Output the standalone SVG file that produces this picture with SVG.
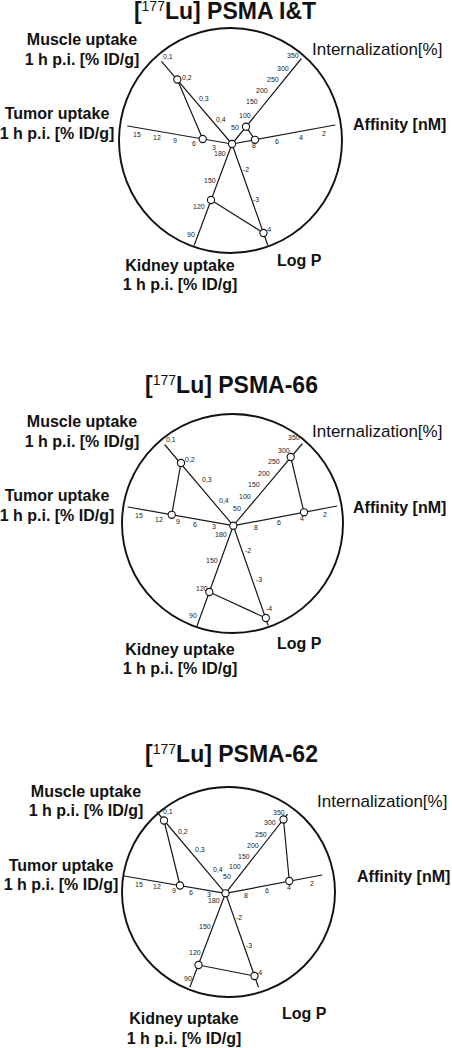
<svg xmlns="http://www.w3.org/2000/svg" width="452" height="1048" viewBox="0 0 452 1048">
<style>
.bg{fill:#fff}
.rim{fill:none;stroke:#111;stroke-width:1.9}
.ax{fill:none;stroke:#1a1a1a;stroke-width:1.2;stroke-linecap:round}
.pt{fill:#fff;stroke:#111;stroke-width:1.1}
.tk{font-family:"Liberation Sans",Arial,sans-serif;font-size:7px;fill:#222}
.lb{font-family:"Liberation Sans",Arial,sans-serif;font-size:16px;font-weight:bold;fill:#111}
.lc{text-anchor:middle}
.lr{font-family:"Liberation Sans",Arial,sans-serif;font-size:17px;fill:#111}
.tt{font-family:"Liberation Sans",Arial,sans-serif;font-size:23px;font-weight:bold;fill:#111;text-anchor:middle}
.sup{font-size:14px;font-weight:normal}
</style>
<rect class="bg" x="0" y="0" width="452" height="1048"/>

<!-- ============ Chart 1 ============ -->
<g id="chart-psma-it">
  <text id="title-1" class="tt" x="225" y="19">[<tspan class="sup" dy="-8">177</tspan><tspan dy="8">Lu] PSMA I&amp;T</tspan></text>
  <ellipse id="rim-1" class="rim" cx="230.5" cy="140.5" rx="111.5" ry="112.5"/>
  <g id="axes-1" class="ax">
    <line x1="161.7" y1="61.7" x2="232" y2="144"/>
    <line x1="301" y1="59" x2="232" y2="144"/>
    <line x1="232" y1="144" x2="335" y2="125"/>
    <line x1="232" y1="144" x2="267.7" y2="245"/>
    <line x1="232" y1="144" x2="194.3" y2="245"/>
    <line x1="127.7" y1="126" x2="232" y2="144"/>
  </g>
  <g id="connectors-1" class="ax">
    <line x1="177.3" y1="79.5" x2="202.7" y2="139"/>
    <line x1="246" y1="126.7" x2="255" y2="139.8"/>
    <line x1="263.5" y1="233" x2="211" y2="200"/>
  </g>
  <g id="points-1" class="pt">
    <circle cx="232" cy="144" r="3.6"/>
    <circle cx="177.3" cy="79.5" r="3.6"/>
    <circle cx="246" cy="126.7" r="3.6"/>
    <circle cx="255" cy="139.8" r="3.6"/>
    <circle cx="263.5" cy="233" r="3.6"/>
    <circle cx="211" cy="200" r="3.6"/>
    <circle cx="202.7" cy="139" r="3.6"/>
  </g>
  <g id="ticks-1" class="tk">
    <text x="163" y="59">0,1</text><text x="182" y="80">0,2</text><text x="199" y="101">0,3</text><text x="216" y="122">0,4</text>
    <text x="287" y="58">350</text><text x="277" y="71">300</text><text x="267" y="82">250</text><text x="256" y="93">200</text><text x="246" y="104">150</text><text x="239" y="118">100</text><text x="231" y="130">50</text>
    <text x="252" y="148">8</text><text x="275" y="144">6</text><text x="299" y="140">4</text><text x="322" y="136">2</text>
    <text x="133" y="137">15</text><text x="153" y="140">12</text><text x="173" y="143">9</text><text x="192" y="146">6</text><text x="212" y="150">3</text>
    <text x="214" y="156">180</text><text x="204" y="183">150</text><text x="193" y="209">120</text><text x="187" y="237">90</text>
    <text x="243" y="172">-2</text><text x="253" y="202">-3</text><text x="265" y="232">-4</text>
  </g>
  <g id="label-muscle-1" class="lb lc"><text x="82" y="45">Muscle uptake</text><text x="82" y="65">1 h p.i. [% ID/g]</text></g>
  <g id="label-intern-1" class="lr"><text x="312" y="55">Internalization[%]</text></g>
  <g id="label-tumor-1" class="lb lc"><text x="57" y="119">Tumor uptake</text><text x="57" y="139">1 h p.i. [% ID/g]</text></g>
  <g id="label-affinity-1" class="lb"><text x="353" y="130">Affinity [nM]</text></g>
  <g id="label-kidney-1" class="lb lc"><text x="180" y="271">Kidney uptake</text><text x="180" y="290">1 h p.i. [% ID/g]</text></g>
  <g id="label-logp-1" class="lb"><text x="277" y="266">Log P</text></g>
</g>

<!-- ============ Chart 2 ============ -->
<g id="chart-psma-66">
  <text id="title-2" class="tt" x="231.5" y="393">[<tspan class="sup" dy="-8">177</tspan><tspan dy="8">Lu] PSMA-66</tspan></text>
  <ellipse id="rim-2" class="rim" cx="232.5" cy="523.5" rx="110.5" ry="109.5"/>
  <g id="axes-2" class="ax">
    <line x1="165" y1="445" x2="233.3" y2="525.7"/>
    <line x1="302" y1="444" x2="233.3" y2="525.7"/>
    <line x1="233.3" y1="525.7" x2="337" y2="506"/>
    <line x1="233.3" y1="525.7" x2="268" y2="625"/>
    <line x1="233.3" y1="525.7" x2="197" y2="626"/>
    <line x1="128" y1="507" x2="233.3" y2="525.7"/>
  </g>
  <g id="connectors-2" class="ax">
    <line x1="181" y1="463" x2="171.7" y2="514.8"/>
    <line x1="290.7" y1="457" x2="304" y2="512.3"/>
    <line x1="265.8" y1="618" x2="209.3" y2="592"/>
  </g>
  <g id="points-2" class="pt">
    <circle cx="233.3" cy="525.7" r="3.6"/>
    <circle cx="181" cy="463" r="3.6"/>
    <circle cx="290.7" cy="457" r="3.6"/>
    <circle cx="304" cy="512.3" r="3.6"/>
    <circle cx="265.8" cy="618" r="3.6"/>
    <circle cx="209.3" cy="592" r="3.6"/>
    <circle cx="171.7" cy="514.8" r="3.6"/>
  </g>
  <g id="ticks-2" class="tk">
    <text x="166" y="442">0,1</text><text x="185" y="462">0,2</text><text x="202" y="482">0,3</text><text x="219" y="503">0,4</text>
    <text x="288" y="440">350</text><text x="278" y="453">300</text><text x="268" y="464">250</text><text x="258" y="476">200</text><text x="248" y="487">150</text><text x="239" y="499">100</text><text x="233" y="511">50</text>
    <text x="254" y="530">8</text><text x="277" y="525">6</text><text x="300" y="521">4</text><text x="323" y="517">2</text>
    <text x="135" y="518">15</text><text x="155" y="522">12</text><text x="176" y="524">9</text><text x="193" y="527">6</text><text x="212" y="529">3</text>
    <text x="215" y="537">180</text><text x="206" y="563">150</text><text x="196" y="591">120</text><text x="189" y="618">90</text>
    <text x="245" y="553">-2</text><text x="256" y="582">-3</text><text x="266" y="611">-4</text>
  </g>
  <g id="label-muscle-2" class="lb lc"><text x="82" y="427">Muscle uptake</text><text x="82" y="447">1 h p.i. [% ID/g]</text></g>
  <g id="label-intern-2" class="lr"><text x="312" y="437">Internalization[%]</text></g>
  <g id="label-tumor-2" class="lb lc"><text x="57" y="501">Tumor uptake</text><text x="57" y="521">1 h p.i. [% ID/g]</text></g>
  <g id="label-affinity-2" class="lb"><text x="353" y="513">Affinity [nM]</text></g>
  <g id="label-kidney-2" class="lb lc"><text x="180" y="655">Kidney uptake</text><text x="180" y="674">1 h p.i. [% ID/g]</text></g>
  <g id="label-logp-2" class="lb"><text x="277" y="649">Log P</text></g>
</g>

<!-- ============ Chart 3 ============ -->
<g id="chart-psma-62">
  <text id="title-3" class="tt" x="231.5" y="762">[<tspan class="sup" dy="-8">177</tspan><tspan dy="8">Lu] PSMA-62</tspan></text>
  <ellipse id="rim-3" class="rim" cx="228.5" cy="892" rx="106.5" ry="105"/>
  <g id="axes-3" class="ax">
    <line x1="157" y1="812" x2="225.5" y2="893.3"/>
    <line x1="287.3" y1="814.3" x2="225.5" y2="893.3"/>
    <line x1="225.5" y1="893.3" x2="322" y2="875"/>
    <line x1="225.5" y1="893.3" x2="258.3" y2="986.7"/>
    <line x1="225.5" y1="893.3" x2="190" y2="986.7"/>
    <line x1="124" y1="876" x2="225.5" y2="893.3"/>
  </g>
  <g id="connectors-3" class="ax">
    <line x1="164" y1="820.5" x2="180" y2="885.5"/>
    <line x1="283.5" y1="819.5" x2="289.3" y2="881"/>
    <line x1="254.5" y1="976" x2="198.5" y2="965"/>
  </g>
  <g id="points-3" class="pt">
    <circle cx="225.5" cy="893.3" r="3.6"/>
    <circle cx="164" cy="820.5" r="3.6"/>
    <circle cx="283.5" cy="819.5" r="3.6"/>
    <circle cx="289.3" cy="881" r="3.6"/>
    <circle cx="254.5" cy="976" r="3.6"/>
    <circle cx="198.5" cy="965" r="3.6"/>
    <circle cx="180" cy="885.5" r="3.6"/>
  </g>
  <g id="ticks-3" class="tk">
    <text x="163" y="814">0,1</text><text x="178" y="834">0,2</text><text x="195" y="852">0,3</text><text x="213" y="872">0,4</text>
    <text x="273" y="815">350</text><text x="264" y="825">300</text><text x="255" y="837">250</text><text x="247" y="848">200</text><text x="238" y="859">150</text><text x="229" y="869">100</text><text x="223" y="879">50</text>
    <text x="244" y="898">8</text><text x="265" y="893">6</text><text x="287" y="890">4</text><text x="310" y="886">2</text>
    <text x="135" y="887">15</text><text x="153" y="889">12</text><text x="172" y="893">9</text><text x="189" y="895">6</text><text x="207" y="897">3</text>
    <text x="208" y="903">180</text><text x="199" y="929">150</text><text x="189" y="955">120</text><text x="184" y="981">90</text>
    <text x="236" y="920">-2</text><text x="246" y="948">-3</text><text x="256" y="975">-4</text>
  </g>
  <g id="label-muscle-3" class="lb lc"><text x="86" y="797">Muscle uptake</text><text x="86" y="816">1 h p.i. [% ID/g]</text></g>
  <g id="label-intern-3" class="lr"><text x="317" y="807">Internalization[%]</text></g>
  <g id="label-tumor-3" class="lb lc"><text x="61" y="871">Tumor uptake</text><text x="61" y="890">1 h p.i. [% ID/g]</text></g>
  <g id="label-affinity-3" class="lb"><text x="357" y="882">Affinity [nM]</text></g>
  <g id="label-kidney-3" class="lb lc"><text x="184" y="1024">Kidney uptake</text><text x="184" y="1044">1 h p.i. [% ID/g]</text></g>
  <g id="label-logp-3" class="lb"><text x="282" y="1019">Log P</text></g>
</g>
</svg>
